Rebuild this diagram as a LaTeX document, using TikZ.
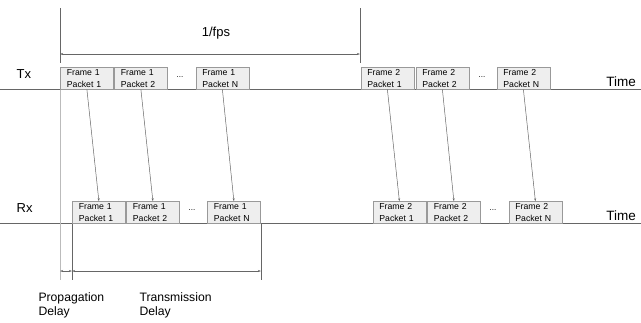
\documentclass[tikz,border=0pt]{standalone}
\usepackage{fontspec}
\setmainfont{Liberation Sans}
\usetikzlibrary{arrows.meta}
\definecolor{boxfill}{HTML}{EEEEEE}
\definecolor{boxline}{HTML}{999999}
\definecolor{axis}{HTML}{666666}
\definecolor{lightax}{HTML}{BBBBBB}
\begin{document}
\begin{tikzpicture}[x=1pt,y=-1pt,
  pkt/.style={draw=boxline,fill=boxfill,line width=0.8pt,anchor=north west,
    text width=40pt,inner xsep=6.5pt,inner ysep=0pt,minimum height=21.5pt,align=left,
    font=\fontsize{8.7}{11.5}\selectfont},
  axisline/.style={draw=axis,line width=0.9pt},
  sendarrow/.style={draw=axis,line width=0.5pt,-{Stealth[length=3pt,width=2pt]}},
  measure/.style={draw=axis,line width=0.7pt,{Stealth[length=3pt,width=2pt]}-{Stealth[length=3pt,width=2pt]}},
  lbl/.style={font=\fontsize{13}{15}\selectfont,inner sep=0pt},
  timelbl/.style={font=\fontsize{13.5}{16}\selectfont,inner sep=0pt,anchor=base east},
  delaylbl/.style={font=\fontsize{12.2}{14.5}\selectfont,inner sep=0pt,anchor=north west,align=left},
  dots/.style={font=\fontsize{8}{10}\selectfont,inner sep=0pt}
]
\useasboundingbox (0,0) rectangle (641,322);
% axes
\draw[axisline] (0,89) -- (641,89);
\draw[axisline] (0,223) -- (641,223);
% vertical markers
\draw[draw=lightax,line width=0.9pt] (60,89) -- (60,280);
\draw[axisline] (60,8) -- (60,63);
\draw[axisline] (360,8) -- (360,63);
\draw[axisline] (72,223) -- (72,280);
\draw[axisline] (261,223) -- (261,280);
% labels
\node[lbl,anchor=base west] (tx) at (16.5,78.3) {Tx};
\node[lbl,anchor=base west] (rx) at (16.5,212.3) {Rx};
\node[timelbl] (time1) at (636,86.7) {Time};
\node[timelbl] (time2) at (636,220.7) {Time};
\node[lbl,anchor=base west] (fps) at (201.7,36.7) {1/fps};
\coordinate (fa) at (60,54);
\coordinate (fb) at (360,54);
\draw[measure] (fa) -- (fb);
\coordinate (pa) at (60,271);
\coordinate (pb) at (72,271);
\coordinate (pc) at (261,271);
\draw[measure] (pa) -- (pb);
\draw[measure] (pb) -- (pc);
\node[delaylbl] (prop) at (38.3,292) {Propagation\\Delay};
\node[delaylbl] (trans) at (139.3,292) {Transmission\\Delay};
% Tx packets
\node[pkt] (t11) at (60,67.2) {Frame 1\\Packet 1};
\node[pkt] (t12) at (114,67.2) {Frame 1\\Packet 2};
\node[dots] (td1) at (180,77) {...};
\node[pkt] (t1n) at (195.5,67.2) {Frame 1\\Packet N};
\node[pkt] (t21) at (360.5,67.2) {Frame 2\\Packet 1};
\node[pkt] (t22) at (415.5,67.2) {Frame 2\\Packet 2};
\node[dots] (td2) at (482,77) {...};
\node[pkt] (t2n) at (496.5,67.2) {Frame 2\\Packet N};
% Rx packets
\node[pkt] (r11) at (72,201.2) {Frame 1\\Packet 1};
\node[pkt] (r12) at (126,201.2) {Frame 1\\Packet 2};
\node[dots] (rd1) at (192,210) {...};
\node[pkt] (r1n) at (207,201.2) {Frame 1\\Packet N};
\node[pkt] (r21) at (372.5,201.2) {Frame 2\\Packet 1};
\node[pkt] (r22) at (427,201.2) {Frame 2\\Packet 2};
\node[dots] (rd2) at (493,210) {...};
\node[pkt] (r2n) at (508.5,201.2) {Frame 2\\Packet N};
% transmissions
\draw[sendarrow] (t11.south) -- (r11.north);
\draw[sendarrow] (t12.south) -- (r12.north);
\draw[sendarrow] (t1n.south) -- (r1n.north);
\draw[sendarrow] (t21.south) -- (r21.north);
\draw[sendarrow] (t22.south) -- (r22.north);
\draw[sendarrow] (t2n.south) -- (r2n.north);
\end{tikzpicture}
\end{document}
